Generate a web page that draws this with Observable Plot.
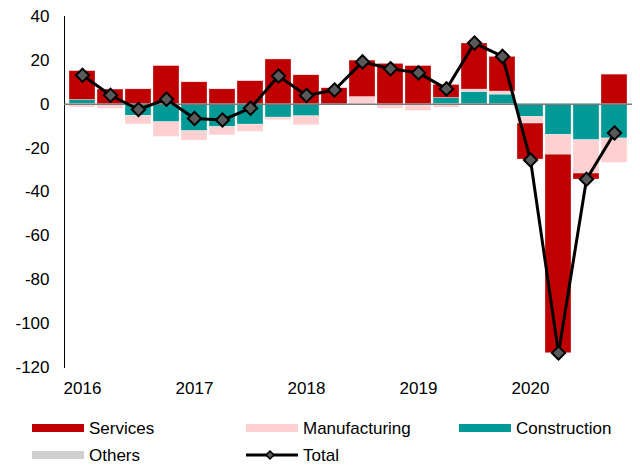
<!DOCTYPE html>
<html><head><meta charset="utf-8">
<script src="https://cdn.jsdelivr.net/npm/d3@7"></script>
<script src="https://cdn.jsdelivr.net/npm/@observablehq/plot@0.6"></script>
<style>
body{margin:0;background:#fff;font-family:"Liberation Sans",Arial,sans-serif;}
#wrap{position:relative;width:640px;height:467px;overflow:hidden;}
#chart{position:absolute;left:0;top:0;}
.sw{position:absolute;width:52px;height:8px;}
.lt{position:absolute;font-size:17px;line-height:17px;color:#000;white-space:nowrap;}
</style></head>
<body><div id="wrap"><div id="chart"></div><div id="legend"></div></div>
<script>
const quarters = ["2016Q1","2016Q2","2016Q3","2016Q4","2017Q1","2017Q2","2017Q3","2017Q4",
  "2018Q1","2018Q2","2018Q3","2018Q4","2019Q1","2019Q2","2019Q3","2019Q4",
  "2020Q1","2020Q2","2020Q3","2020Q4"];
const construction  = [2.0, 0, -5.3, -8.2, -12.3, -10.4, -9.3, -6.1, -5.5, -0.6, -0.3, 0, 0, 2.9, 5.6, 4.4, -5.8, -14.0, -16.4, -15.6];
const manufacturing = [-1.5, -2.1, -3.9, -6.7, -4.3, -3.8, -3.3, -1.2, -4.1, 0, 3.3, -2.1, -3.1, -1.6, 1.1, 1.4, -3.0, -9.0, -15.2, -11.1];
const services      = [13.1, 6.7, 6.8, 17.4, 10.0, 6.8, 10.5, 20.4, 13.2, 7.3, 16.6, 18.4, 17.4, 5.9, 21.0, 15.8, -16.4, -90.5, -2.7, 13.5];
const others        = [0, 0, 0, 0, 0, 0, 0, 0, 0, 0, 0, 0, 0, 0, 0, 0, 0, 0, 0, 0];
const total         = [13.2, 4.1, -2.4, 2.3, -6.5, -7.2, -1.8, 12.9, 4.0, 6.5, 19.3, 16.2, 14.3, 7.0, 27.9, 21.8, -25.4, -113.4, -34.2, -13.1];
const seriesNames = ["Construction", "Manufacturing", "Services", "Others"];
const seriesColors = ["#009A96", "#FFD0D1", "#C00000", "#D0CECF"];
const yTicks = [40, 20, 0, -20, -40, -60, -80, -100, -120];
const yearTicks = ["2016Q1","2017Q1","2018Q1","2019Q1","2020Q1"];

const seriesValues = [construction, manufacturing, services, others];
const barData = [];
seriesNames.forEach((s, j) => quarters.forEach((q, i) => barData.push({quarter: q, sector: s, value: seriesValues[j][i]})));
const totalData = quarters.map((q, i) => ({quarter: q, value: total[i]}));

const chart = Plot.plot({
  width: 640,
  height: 400,
  marginLeft: 64,
  marginRight: 8,
  marginTop: 16,
  marginBottom: 33,
  style: {fontSize: "17px", fontFamily: "'Liberation Sans', Arial, sans-serif", color: "#000", background: "#fff"},
  x: {type: "band", domain: quarters, paddingInner: 0.085, paddingOuter: 0.035, ticks: yearTicks,
      tickFormat: d => d.slice(0, 4), tickSize: 0, tickPadding: 14, label: null},
  y: {domain: [-120, 40], ticks: yTicks, tickFormat: d => String(d), tickSize: 0, tickPadding: 15,
      label: null, line: true},
  color: {domain: seriesNames, range: seriesColors},
  marks: [
    Plot.barY(barData, {x: "quarter", y: "value", fill: "sector", stroke: "#fff", strokeWidth: 0.5, strokeOpacity: 0.6}),
    Plot.ruleY([0], {stroke: "#7a7a7a", strokeWidth: 1.5}),
    Plot.line(totalData, {x: "quarter", y: "value", stroke: "#000", strokeWidth: 3}),
    Plot.dot(totalData, {x: "quarter", y: "value", symbol: "diamond2", r: 6, fill: "#595959", stroke: "#000", strokeWidth: 2})
  ]
});
document.getElementById("chart").appendChild(chart);

const legendItems = [
  {name: "Services", color: "#C00000", x: 32, y: 428},
  {name: "Manufacturing", color: "#FFD0D1", x: 246, y: 428},
  {name: "Construction", color: "#009A96", x: 459, y: 428},
  {name: "Others", color: "#D0CECF", x: 32, y: 455},
  {name: "Total", color: null, x: 246, y: 455}
];
const leg = document.getElementById("legend");
legendItems.forEach(it => {
  if (it.color) {
    const sw = document.createElement("div");
    sw.className = "sw";
    sw.style.left = it.x + "px"; sw.style.top = (it.y - 4) + "px"; sw.style.background = it.color;
    leg.appendChild(sw);
  } else {
    const ns = "http://www.w3.org/2000/svg";
    const svg = document.createElementNS(ns, "svg");
    svg.setAttribute("width", 54); svg.setAttribute("height", 14);
    svg.style.position = "absolute"; svg.style.left = (it.x - 1) + "px"; svg.style.top = (it.y - 7) + "px";
    const ln = document.createElementNS(ns, "line");
    ln.setAttribute("x1", 1); ln.setAttribute("x2", 53); ln.setAttribute("y1", 7); ln.setAttribute("y2", 7);
    ln.setAttribute("stroke", "#000"); ln.setAttribute("stroke-width", 3);
    svg.appendChild(ln);
    const dm = document.createElementNS(ns, "path");
    dm.setAttribute("d", "M25,3L29,7L25,11L21,7Z");
    dm.setAttribute("fill", "#595959"); dm.setAttribute("stroke", "#000"); dm.setAttribute("stroke-width", 1.5);
    svg.appendChild(dm);
    leg.appendChild(svg);
  }
  const t = document.createElement("div");
  t.className = "lt";
  t.textContent = it.name;
  t.style.left = (it.x + 57) + "px"; t.style.top = (it.y - 8) + "px";
  leg.appendChild(t);
});
</script></body></html>
